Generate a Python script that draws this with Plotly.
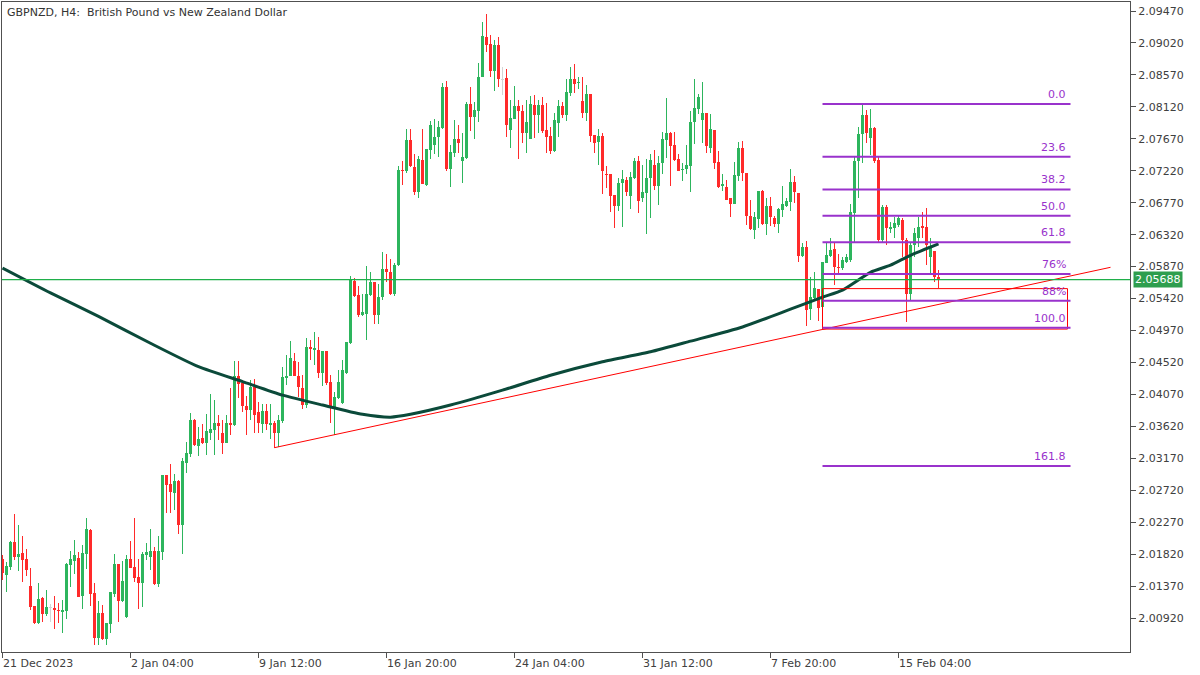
import plotly.graph_objects as go

# ---------------- data (GBPNZD H4) ----------------
opens = [
2.0175,2.0153,2.0164,2.0199,2.0178,2.0184,2.0175,2.0137,2.0109,2.0085,
2.0120,2.0098,2.0106,2.0106,2.0103,2.0101,2.0102,2.0167,2.0172,2.0177,
2.0123,2.0182,2.0216,2.0127,2.0064,2.0099,2.0062,2.0084,2.0126,2.0168,
2.0116,2.0093,2.0175,2.0164,2.0150,2.0141,2.0181,2.0178,2.0186,2.0140,
2.0185,2.0293,2.0281,2.0268,2.0285,2.0223,2.0310,2.0323,2.0371,2.0334,
2.0346,2.0339,2.0353,2.0357,2.0367,2.0353,2.0339,2.0367,2.0364,2.0433,
2.0423,2.0391,2.0385,2.0417,2.0382,2.0366,2.0383,2.0364,2.0367,2.0353,
2.0370,2.0430,2.0433,2.0454,2.0433,2.0416,2.0392,2.0474,2.0470,2.0470,
2.0437,2.0468,2.0425,2.0388,2.0402,2.0395,2.0437,2.0479,2.0567,2.0547,
2.0519,2.0520,2.0547,2.0565,2.0519,2.0544,2.0584,2.0579,2.0548,2.0589,
2.0723,2.0721,2.0765,2.0727,2.0692,2.0737,2.0702,2.0751,2.0758,2.0770,
2.0782,2.0840,2.0725,2.0747,2.0767,2.0736,2.0740,2.0816,2.0798,2.0806,
2.0854,2.0910,2.0900,2.0863,2.0899,2.0850,2.0853,2.0779,2.0795,2.0813,
2.0806,2.0775,2.0767,2.0814,2.0800,2.0814,2.0779,2.0771,2.0750,2.0789,
2.0813,2.0800,2.0831,2.0851,2.0846,2.0820,2.0803,2.0830,2.0773,2.0763,
2.0771,2.0717,2.0717,2.0688,2.0672,2.0705,2.0709,2.0686,2.0712,2.0736,
2.0684,2.0691,2.0712,2.0730,2.0701,2.0733,2.0765,2.0775,2.0758,2.0739,
2.0723,2.0725,2.0729,2.0791,2.0809,2.0794,2.0803,2.0754,2.0779,2.0734,
2.0701,2.0699,2.0684,2.0675,2.0715,2.0754,2.0719,2.0658,2.0639,2.0654,
2.0694,2.0647,2.0672,2.0655,2.0647,2.0667,2.0672,2.0678,2.0706,2.0691,
2.0602,2.0614,2.0527,2.0543,2.0555,2.0530,2.0592,2.0602,2.0612,2.0586,
2.0585,2.0593,2.0596,2.0662,2.0736,2.0774,2.0801,2.0768,2.0782,2.0737,
2.0624,2.0671,2.0640,2.0641,2.0645,2.0653,2.0624,2.0548,2.0617,2.0627,
2.0644,2.0643,2.0600,2.0609,2.0572]

highs = [
2.0181,2.0171,2.0200,2.0239,2.0223,2.0208,2.0189,2.0162,2.0109,2.0141,
2.0122,2.0132,2.0112,2.0123,2.0113,2.0117,2.0170,2.0186,2.0202,2.0185,
2.0195,2.0233,2.0217,2.0141,2.0116,2.0110,2.0085,2.0129,2.0182,2.0168,
2.0172,2.0181,2.0200,2.0233,2.0175,2.0185,2.0198,2.0217,2.0192,2.0208,
2.0293,2.0293,2.0309,2.0295,2.0286,2.0317,2.0340,2.0381,2.0372,2.0361,
2.0365,2.0379,2.0408,2.0399,2.0378,2.0371,2.0378,2.0416,2.0454,2.0454,
2.0427,2.0405,2.0427,2.0429,2.0396,2.0393,2.0393,2.0393,2.0370,2.0378,
2.0446,2.0462,2.0482,2.0465,2.0453,2.0434,2.0486,2.0484,2.0495,2.0488,
2.0468,2.0468,2.0434,2.0410,2.0441,2.0455,2.0481,2.0574,2.0571,2.0560,
2.0548,2.0588,2.0579,2.0565,2.0562,2.0608,2.0605,2.0598,2.0592,2.0729,
2.0736,2.0781,2.0781,2.0746,2.0743,2.0781,2.0753,2.0792,2.0795,2.0792,
2.0846,2.0848,2.0758,2.0794,2.0786,2.0775,2.0819,2.0840,2.0819,2.0874,
2.0932,2.0943,2.0913,2.0906,2.0910,2.0868,2.0865,2.0822,2.0841,2.0822,
2.0814,2.0822,2.0827,2.0829,2.0822,2.0826,2.0817,2.0784,2.0803,2.0822,
2.0819,2.0851,2.0868,2.0872,2.0854,2.0854,2.0843,2.0830,2.0773,2.0781,
2.0775,2.0729,2.0717,2.0688,2.0712,2.0723,2.0713,2.0720,2.0740,2.0743,
2.0730,2.0739,2.0746,2.0751,2.0743,2.0777,2.0825,2.0777,2.0777,2.0746,
2.0733,2.0758,2.0806,2.0851,2.0830,2.0847,2.0803,2.0802,2.0779,2.0750,
2.0717,2.0709,2.0684,2.0734,2.0762,2.0764,2.0719,2.0681,2.0664,2.0694,
2.0695,2.0684,2.0685,2.0658,2.0670,2.0701,2.0684,2.0725,2.0715,2.0691,
2.0620,2.0623,2.0572,2.0579,2.0555,2.0593,2.0620,2.0627,2.0620,2.0605,
2.0600,2.0605,2.0675,2.0741,2.0784,2.0816,2.0808,2.0809,2.0784,2.0741,
2.0674,2.0674,2.0650,2.0657,2.0658,2.0655,2.0627,2.0622,2.0641,2.0657,
2.0664,2.0669,2.0627,2.0609,2.0582]

lows = [
2.0146,2.0129,2.0160,2.0174,2.0158,2.0143,2.0151,2.0103,2.0084,2.0084,
2.0086,2.0095,2.0086,2.0077,2.0085,2.0071,2.0091,2.0136,2.0154,2.0122,
2.0105,2.0161,2.0109,2.0054,2.0054,2.0061,2.0054,2.0071,2.0122,2.0086,
2.0115,2.0092,2.0162,2.0143,2.0105,2.0108,2.0174,2.0160,2.0139,2.0136,
2.0174,2.0240,2.0240,2.0244,2.0210,2.0182,2.0296,2.0319,2.0334,2.0320,
2.0337,2.0322,2.0343,2.0322,2.0343,2.0323,2.0339,2.0350,2.0362,2.0402,
2.0382,2.0350,2.0371,2.0353,2.0353,2.0353,2.0357,2.0344,2.0332,2.0333,
2.0367,2.0420,2.0437,2.0436,2.0403,2.0386,2.0388,2.0455,2.0448,2.0430,
2.0419,2.0420,2.0367,2.0350,2.0400,2.0393,2.0436,2.0478,2.0544,2.0516,
2.0518,2.0484,2.0546,2.0506,2.0506,2.0540,2.0565,2.0547,2.0546,2.0588,
2.0702,2.0719,2.0727,2.0688,2.0684,2.0703,2.0700,2.0739,2.0746,2.0741,
2.0781,2.0721,2.0699,2.0741,2.0747,2.0705,2.0739,2.0778,2.0767,2.0791,
2.0854,2.0889,2.0854,2.0834,2.0840,2.0829,2.0770,2.0754,2.0795,2.0739,
2.0761,2.0747,2.0767,2.0768,2.0775,2.0775,2.0747,2.0746,2.0748,2.0770,
2.0796,2.0792,2.0827,2.0831,2.0837,2.0796,2.0792,2.0763,2.0747,2.0730,
2.0689,2.0698,2.0664,2.0641,2.0665,2.0643,2.0686,2.0668,2.0711,2.0662,
2.0678,2.0633,2.0656,2.0695,2.0674,2.0717,2.0740,2.0701,2.0736,2.0721,
2.0708,2.0717,2.0692,2.0760,2.0802,2.0761,2.0747,2.0747,2.0725,2.0698,
2.0694,2.0681,2.0657,2.0675,2.0708,2.0708,2.0646,2.0639,2.0626,2.0641,
2.0646,2.0632,2.0644,2.0643,2.0634,2.0657,2.0671,2.0665,2.0677,2.0593,
2.0600,2.0503,2.0512,2.0540,2.0510,2.0500,2.0592,2.0600,2.0561,2.0576,
2.0582,2.0592,2.0593,2.0622,2.0684,2.0733,2.0761,2.0744,2.0733,2.0622,
2.0622,2.0617,2.0634,2.0627,2.0643,2.0600,2.0509,2.0540,2.0600,2.0615,
2.0627,2.0589,2.0575,2.0565,2.0557]

closes = [
2.0156,2.0165,2.0199,2.0178,2.0182,2.0174,2.0160,2.0108,2.0085,2.0119,
2.0098,2.0108,2.0106,2.0103,2.0102,2.0103,2.0168,2.0175,2.0181,2.0122,
2.0184,2.0217,2.0126,2.0064,2.0099,2.0062,2.0085,2.0129,2.0168,2.0116,
2.0144,2.0175,2.0162,2.0148,2.0141,2.0182,2.0185,2.0186,2.0140,2.0186,
2.0293,2.0279,2.0270,2.0285,2.0223,2.0313,2.0325,2.0371,2.0336,2.0344,
2.0339,2.0355,2.0358,2.0367,2.0362,2.0339,2.0367,2.0364,2.0433,2.0422,
2.0391,2.0385,2.0417,2.0378,2.0367,2.0383,2.0366,2.0367,2.0353,2.0371,
2.0431,2.0433,2.0458,2.0433,2.0417,2.0392,2.0474,2.0471,2.0472,2.0437,
2.0468,2.0423,2.0388,2.0403,2.0425,2.0441,2.0481,2.0568,2.0546,2.0519,
2.0523,2.0548,2.0565,2.0519,2.0544,2.0584,2.0579,2.0548,2.0589,2.0723,
2.0721,2.0765,2.0729,2.0692,2.0739,2.0703,2.0753,2.0786,2.0770,2.0784,
2.0840,2.0725,2.0748,2.0767,2.0761,2.0741,2.0816,2.0798,2.0808,2.0854,
2.0912,2.0899,2.0863,2.0899,2.0851,2.0850,2.0786,2.0796,2.0813,2.0806,
2.0775,2.0791,2.0816,2.0800,2.0814,2.0778,2.0770,2.0750,2.0794,2.0813,
2.0800,2.0833,2.0851,2.0844,2.0847,2.0803,2.0830,2.0771,2.0761,2.0771,
2.0722,2.0716,2.0686,2.0672,2.0705,2.0710,2.0692,2.0713,2.0736,2.0679,
2.0692,2.0712,2.0737,2.0701,2.0733,2.0767,2.0775,2.0757,2.0737,2.0722,
2.0725,2.0730,2.0791,2.0810,2.0826,2.0803,2.0757,2.0781,2.0733,2.0699,
2.0703,2.0681,2.0675,2.0716,2.0754,2.0719,2.0658,2.0640,2.0657,2.0694,
2.0647,2.0672,2.0657,2.0647,2.0668,2.0675,2.0679,2.0706,2.0692,2.0602,
2.0614,2.0526,2.0544,2.0557,2.0529,2.0593,2.0603,2.0610,2.0586,2.0585,
2.0596,2.0600,2.0664,2.0736,2.0774,2.0801,2.0775,2.0782,2.0736,2.0624,
2.0671,2.0641,2.0643,2.0648,2.0655,2.0624,2.0548,2.0617,2.0634,2.0643,
2.0641,2.0617,2.0614,2.0572,2.05688]

# moving average, sampled along the bars
ma_bar = [0, 12, 24, 37, 49, 60, 70, 80, 90, 97, 102, 112, 125, 137, 150,
          162, 172, 185, 197, 205, 210, 217, 222, 227, 234]
ma_val = [2.0585, 2.0550, 2.0517, 2.0479, 2.0446, 2.0425, 2.0406, 2.0392, 2.0379,
          2.0375, 2.0379, 2.0392, 2.0413, 2.0434, 2.0453, 2.0467, 2.0482, 2.0502,
          2.0527, 2.0544, 2.0554, 2.0579, 2.0589, 2.0603, 2.0619]

# trend line anchors
trend_bar = [68, 277]
trend_val = [2.0332, 2.0586]

# Fibonacci retracement
fib_high = 2.0816
fib_low = 2.0501
fib_start_bar = 205
fib_end_bar = 267
fib_ratios = [0.0, 23.6, 38.2, 50.0, 61.8, 76.0, 88.0, 100.0, 161.8]
fib_labels = ["0.0", "23.6", "38.2", "50.0", "61.8", "76%", "88%", "100.0", "161.8"]

# red zone rectangle
zone_top = 2.0556
zone_bottom = 2.0499
zone_end_bar = 266.25

bid = 2.05688

x_tick_bars = [0, 32, 64, 96, 128, 160, 192, 224]
x_tick_labels = ["21 Dec 2023", "2 Jan 04:00", "9 Jan 12:00", "16 Jan 20:00",
                 "24 Jan 04:00", "31 Jan 12:00", "7 Feb 20:00", "15 Feb 04:00"]
y_ticks = [2.00920, 2.01370, 2.01820, 2.02270, 2.02720, 2.03170, 2.03620, 2.04070,
           2.04520, 2.04970, 2.05420, 2.05870, 2.06320, 2.06770, 2.07220, 2.07670,
           2.08120, 2.08570, 2.09020, 2.09470]

# ---------------- figure ----------------
UP = "#2DB55D"
DOWN = "#FF2A2A"
DOJI = "#D4D4D4"
FIB = "#9932CC"
FONT = "DejaVu Sans"

n = len(closes)
bars = list(range(n))
colors = []
for o, c in zip(opens, closes):
    if c > o:
        colors.append(UP)
    elif c < o:
        colors.append(DOWN)
    else:
        colors.append(DOJI)

body_base = [min(o, c) for o, c in zip(opens, closes)]
body_len = [max(abs(c - o), 0.0001) for o, c in zip(opens, closes)]
wick_lo = [min(l, o, c) for l, o, c in zip(lows, opens, closes)]
wick_len = [max(h, o, c) - lo for h, o, c, lo in zip(highs, opens, closes, wick_lo)]

fig = go.Figure()
fig.add_trace(go.Bar(x=bars, y=wick_len, base=wick_lo, width=0.25,
                     marker=dict(color=colors, line=dict(width=0)),
                     hoverinfo="skip", showlegend=False))
fig.add_trace(go.Bar(x=bars, y=body_len, base=body_base, width=0.75,
                     marker=dict(color=colors, line=dict(width=0)),
                     hoverinfo="skip", showlegend=False))

fig.add_trace(go.Scatter(x=ma_bar, y=ma_val, mode="lines",
                         line=dict(color="#0B4A3A", width=3, shape="spline", smoothing=0.6),
                         hoverinfo="skip", showlegend=False))
fig.add_trace(go.Scatter(x=trend_bar, y=trend_val, mode="lines",
                         line=dict(color="#FF0000", width=1),
                         hoverinfo="skip", showlegend=False))

shapes = []
annotations = []
# bid line
shapes.append(dict(type="line", xref="paper", x0=0, x1=1, yref="y", y0=bid, y1=bid,
                   line=dict(color="#1FAF4A", width=1.2), layer="above"))
# red zone
shapes.append(dict(type="rect", xref="x", yref="y", x0=fib_start_bar, x1=zone_end_bar,
                   y0=zone_bottom, y1=zone_top, line=dict(color="#FF0000", width=1),
                   fillcolor="rgba(0,0,0,0)"))
# fib lines
for r, lab in zip(fib_ratios, fib_labels):
    lvl = fib_high - r / 100.0 * (fib_high - fib_low)
    shapes.append(dict(type="line", xref="x", yref="y", x0=fib_start_bar, x1=fib_end_bar,
                       y0=lvl, y1=lvl, line=dict(color=FIB, width=2)))
    annotations.append(dict(x=zone_end_bar, y=lvl, xref="x", yref="y", text=lab,
                            showarrow=False, xanchor="right", yanchor="bottom",
                            yshift=1, font=dict(family=FONT, size=11, color=FIB)))

# title
annotations.append(dict(x=0, y=1, xref="paper", yref="paper",
                        text="GBPNZD, H4:\u00a0 British Pound vs New Zealand Dollar",
                        showarrow=False, xanchor="left", yanchor="top", xshift=3, yshift=-2,
                        font=dict(family=FONT, size=11, color="#333333")))
# bid label on price axis
annotations.append(dict(x=1, y=bid, xref="paper", yref="y", text="2.05688",
                        showarrow=False, xanchor="left", yanchor="middle", xshift=3,
                        bgcolor="#2E9E4E", borderpad=1,
                        font=dict(family=FONT, size=11, color="white")))
# x tick labels (left aligned at tick like MT5)
for b, t in zip(x_tick_bars, x_tick_labels):
    annotations.append(dict(x=b, y=0, xref="x", yref="paper", text=t, showarrow=False,
                            xanchor="left", yanchor="top", yshift=-3, xshift=-2,
                            font=dict(family=FONT, size=11, color="#404040")))

fig.update_layout(
    width=1200, height=675,
    margin=dict(l=2, r=70, t=2, b=23),
    paper_bgcolor="white", plot_bgcolor="white",
    barmode="overlay", bargap=0,
    shapes=shapes, annotations=annotations,
    font=dict(family=FONT, size=11, color="#404040"),
    showlegend=False,
)
fig.update_xaxes(range=[-0.125, 281.875], tickvals=x_tick_bars,
                 ticktext=[""] * len(x_tick_bars),
                 ticks="outside", ticklen=5, tickcolor="#505050",
                 showline=True, mirror=True, linecolor="#505050", linewidth=1,
                 showgrid=False, zeroline=False, fixedrange=True)
fig.update_yaxes(side="right", range=[2.00442, 2.09597], tickvals=y_ticks,
                 tickformat=".5f", ticks="outside", ticklen=5, tickcolor="#505050",
                 showline=True, mirror=True, linecolor="#505050", linewidth=1,
                 showgrid=False, zeroline=False, fixedrange=True,
                 tickfont=dict(family=FONT, size=11, color="#404040"))

fig.write_html(
    "out.html",
    config={"displayModeBar": False, "staticPlot": True},
    post_script="document.body.style.margin='0';document.body.style.padding='0';"
                "document.body.style.overflow='hidden';",
)
